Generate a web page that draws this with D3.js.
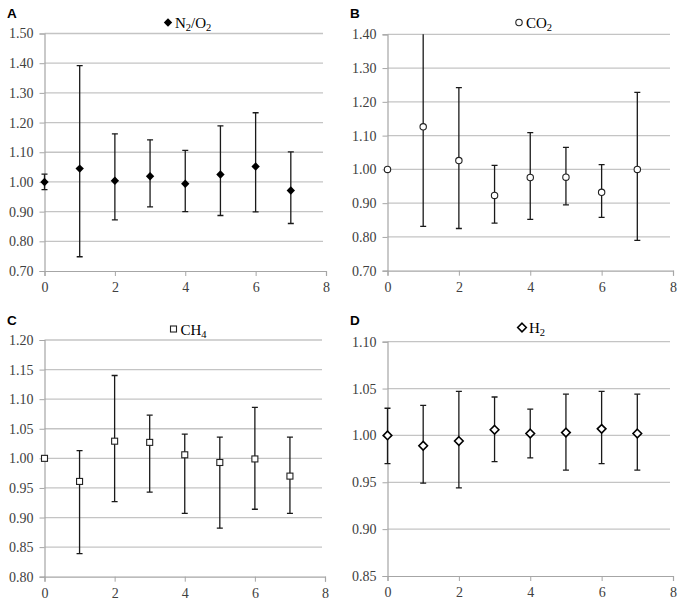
<!DOCTYPE html>
<html><head><meta charset="utf-8">
<script src="https://cdn.jsdelivr.net/npm/d3@7"></script>
<style>body{margin:0;background:#fff}svg{display:block}</style>
</head><body>
<svg id="c" width="683" height="604"></svg>
<script>
// ---- data ----
const xValues = [0, 1, 2, 3, 4, 5, 6, 7];
const xTicks = [0, 2, 4, 6, 8];

const n2o2Mean  = [1.000, 1.045, 1.004, 1.019, 0.994, 1.025, 1.052, 0.971];
const n2o2Upper = [1.026, 1.392, 1.162, 1.142, 1.106, 1.189, 1.233, 1.101];
const n2o2Lower = [0.974, 0.748, 0.872, 0.916, 0.900, 0.887, 0.899, 0.860];
const n2o2Ticks = [0.70, 0.80, 0.90, 1.00, 1.10, 1.20, 1.30, 1.40, 1.50];

const co2Mean  = [1.000, 1.126, 1.026, 0.923, 0.976, 0.977, 0.932, 1.000];
const co2Upper = [1.000, 1.450, 1.242, 1.012, 1.109, 1.065, 1.014, 1.228];
const co2Lower = [1.000, 0.831, 0.825, 0.841, 0.852, 0.895, 0.858, 0.790];
const co2Ticks = [0.70, 0.80, 0.90, 1.00, 1.10, 1.20, 1.30, 1.40];

const ch4Mean  = [1.000, 0.961, 1.029, 1.027, 1.006, 0.993, 0.999, 0.970];
const ch4Upper = [1.000, 1.013, 1.140, 1.073, 1.041, 1.036, 1.086, 1.036];
const ch4Lower = [1.000, 0.839, 0.927, 0.943, 0.907, 0.882, 0.914, 0.907];
const ch4Ticks = [0.80, 0.85, 0.90, 0.95, 1.00, 1.05, 1.10, 1.15, 1.20];

const h2Mean  = [1.000, 0.989, 0.994, 1.006, 1.002, 1.003, 1.007, 1.002];
const h2Upper = [1.029, 1.032, 1.047, 1.041, 1.028, 1.044, 1.047, 1.044];
const h2Lower = [0.970, 0.949, 0.944, 0.972, 0.976, 0.963, 0.970, 0.963];
const h2Ticks = [0.85, 0.90, 0.95, 1.00, 1.05, 1.10];

// ---- layout ----
const panels = [
  {letter:"A", name:"N", sub1:"2", mid:"/O", sub2:"2", mean:n2o2Mean, hi:n2o2Upper, lo:n2o2Lower, ticks:n2o2Ticks,
   L:44.5, R:326, T:33.5, B:271, letterX:7, letterY:18, legX:168, legY:22.5, marker:"filledDiamond"},
  {letter:"B", name:"CO", sub1:"2", mean:co2Mean, hi:co2Upper, lo:co2Lower, ticks:co2Ticks,
   L:387.5, R:673, T:34.3, B:270.7, letterX:350, letterY:18, legX:519, legY:22.5, marker:"circle"},
  {letter:"C", name:"CH", sub1:"4", mean:ch4Mean, hi:ch4Upper, lo:ch4Lower, ticks:ch4Ticks,
   L:44.5, R:325, T:340, B:576.7, letterX:7, letterY:325, legX:173.5, legY:329, marker:"square"},
  {letter:"D", name:"H", sub1:"2", mean:h2Mean, hi:h2Upper, lo:h2Lower, ticks:h2Ticks,
   L:387.5, R:673, T:341.7, B:576, letterX:350, letterY:325, legX:522, legY:327.5, marker:"openDiamond"}
];

const svg = d3.select("#c");
const serif = "'Liberation Serif','Times New Roman',serif";

panels.forEach((p, i) => {
  const ticks = p.ticks;
  const x = d3.scaleLinear().domain([0, 8]).range([p.L, p.R]);
  const y = d3.scaleLinear().domain([ticks[0], ticks[ticks.length-1]]).range([p.B, p.T]);
  const g = svg.append("g");

  const cid = "clip" + i;
  svg.append("clipPath").attr("id", cid).append("rect")
    .attr("x", p.L - 10).attr("y", p.T).attr("width", p.R - p.L + 20).attr("height", p.B - p.T);

  // gridlines
  g.selectAll(".grid").data(ticks.slice(1)).enter().append("line")
    .attr("x1", p.L).attr("x2", p.R - 3)
    .attr("y1", d => y(d)).attr("y2", d => y(d))
    .attr("stroke", "#c4c4c4").attr("stroke-width", 1.3);

  // y axis
  const yAxis = d3.axisLeft(y).tickValues(ticks).tickFormat(d3.format(".2f")).tickSize(5).tickPadding(6);
  const ya = g.append("g").attr("transform", `translate(${p.L},0)`).call(yAxis)
    .attr("font-family", serif).attr("font-size", 14);
  ya.select(".domain").attr("stroke", "#a6a6a6").attr("stroke-width", 1.2);
  ya.selectAll(".tick line").attr("stroke", "#a6a6a6");
  ya.selectAll("text").attr("font-family", serif).attr("font-size", 14).attr("fill", "#404040");

  // x axis
  const xAxis = d3.axisBottom(x).tickValues(xTicks).tickFormat(d3.format("d")).tickSize(5).tickPadding(6);
  const xa = g.append("g").attr("transform", `translate(0,${p.B})`).call(xAxis)
    .attr("font-family", serif).attr("font-size", 14);
  xa.select(".domain").attr("stroke", "#a6a6a6").attr("stroke-width", 1.2);
  xa.selectAll(".tick line").attr("stroke", "#a6a6a6");
  xa.selectAll("text").attr("font-family", serif).attr("font-size", 14).attr("fill", "#404040");

  // error bars
  const data = xValues.map((xv, k) => ({x: xv, m: p.mean[k], hi: p.hi[k], lo: p.lo[k]}));
  const eb = g.append("g").attr("clip-path", `url(#${cid})`);
  eb.selectAll(".v").data(data).enter().append("line")
    .attr("x1", d => x(d.x)).attr("x2", d => x(d.x))
    .attr("y1", d => y(d.hi)).attr("y2", d => y(d.lo))
    .attr("stroke", "#1a1a1a").attr("stroke-width", 1.3);
  const caps = data.flatMap(d => [{x: d.x, v: d.hi, s: d.hi - d.lo}, {x: d.x, v: d.lo, s: d.hi - d.lo}]).filter(c => c.s > 0);
  eb.selectAll(".cap").data(caps).enter().append("line")
    .attr("x1", d => x(d.x) - 3).attr("x2", d => x(d.x) + 3)
    .attr("y1", d => y(d.v)).attr("y2", d => y(d.v))
    .attr("stroke", "#1a1a1a").attr("stroke-width", 1.3);

  // markers
  const drawMarker = (sel, type) => {
    if (type === "filledDiamond") {
      sel.append("path").attr("d", "M0,-4.2L4.2,0L0,4.2L-4.2,0Z").attr("fill", "#000");
    } else if (type === "circle") {
      sel.append("circle").attr("r", 3.2).attr("fill", "#fff").attr("stroke", "#222").attr("stroke-width", 1.1);
    } else if (type === "square") {
      sel.append("rect").attr("x", -3).attr("y", -3).attr("width", 6).attr("height", 6)
        .attr("fill", "#fff").attr("stroke", "#222").attr("stroke-width", 1.1);
    } else if (type === "openDiamond") {
      sel.append("path").attr("d", "M0,-4.3L4.3,0L0,4.3L-4.3,0Z").attr("fill", "#fff")
        .attr("stroke", "#000").attr("stroke-width", 1.6);
    }
  };
  const mk = g.selectAll(".mk").data(data).enter().append("g")
    .attr("transform", d => `translate(${x(d.x)},${y(d.m)})`);
  drawMarker(mk, p.marker);

  // legend
  const lg = g.append("g").attr("transform", `translate(${p.legX},${p.legY})`);
  drawMarker(lg, p.marker);
  const t = g.append("text").attr("x", p.legX + 7).attr("y", p.legY + 5.5)
    .attr("font-family", serif).attr("font-size", 15).attr("fill", "#000");
  t.append("tspan").text(p.name);
  t.append("tspan").attr("font-size", 10.5).attr("dy", 3).text(p.sub1);
  if (p.mid) {
    t.append("tspan").attr("dy", -3).text(p.mid);
    t.append("tspan").attr("font-size", 10.5).attr("dy", 3).text(p.sub2);
  }

  // panel letter
  svg.append("text").attr("x", p.letterX).attr("y", p.letterY)
    .attr("font-family", "'Liberation Sans',Arial,sans-serif").attr("font-weight", "bold")
    .attr("font-size", 13.5).attr("fill", "#000").text(p.letter);
});
</script>
</body></html>
